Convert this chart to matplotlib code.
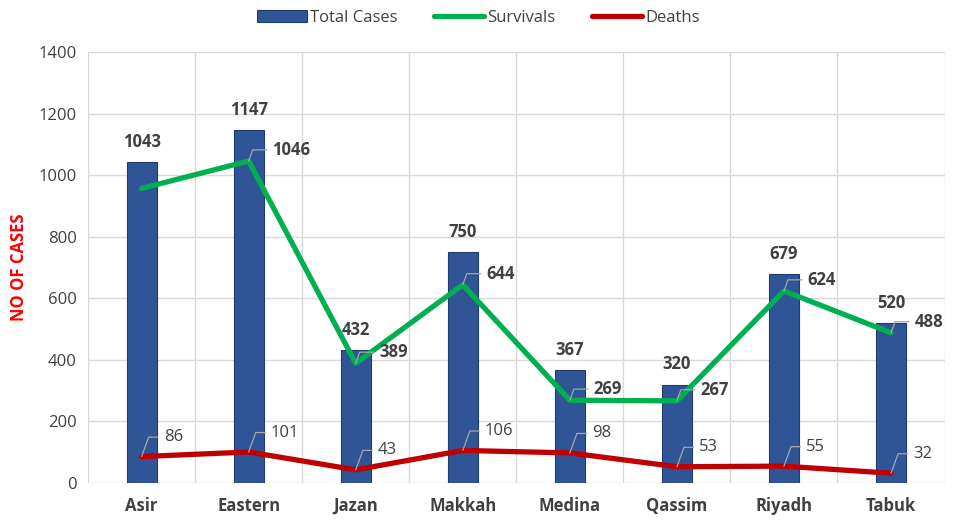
import matplotlib
matplotlib.use("Agg")
import matplotlib.pyplot as plt
import numpy as np

regions = ["Asir", "Eastern", "Jazan", "Makkah", "Medina", "Qassim", "Riyadh", "Tabuk"]
total_cases = [1043, 1147, 432, 750, 367, 320, 679, 520]
survivals = [957, 1046, 389, 644, 269, 267, 624, 488]
deaths = [86, 101, 43, 106, 98, 53, 55, 32]
y_ticks = [0, 200, 400, 600, 800, 1000, 1200, 1400]

plt.rcParams['font.family'] = ['Open Sans', 'DejaVu Sans']
txt = '#404040'
fig = plt.figure(figsize=(9.57, 5.2), dpi=100)
ax = fig.add_axes([0.092, 0.071, 0.895, 0.829])

x = np.arange(len(regions))
bars = ax.bar(x, total_cases, width=0.28, color='#2F5597', edgecolor='#1F3D73', linewidth=0.8,
              label='Total Cases', zorder=2)
ls, = ax.plot(x, survivals, color='#00B050', lw=3.8, label='Survivals', zorder=3,
              solid_capstyle='round')
ld, = ax.plot(x, deaths, color='#C00000', lw=3.8, label='Deaths', zorder=3,
              solid_capstyle='round')

for xi, v in zip(x, total_cases):
    ax.annotate(str(v), (xi, v), xytext=(0, 8), textcoords='offset points',
                ha='center', va='bottom', fontsize=12, fontweight='bold', color=txt)

for xi, v in zip(x, survivals):
    if xi == 0:
        continue
    ax.annotate(str(v), (xi, v), xytext=(17, 8), textcoords='offset points',
                ha='left', va='center', fontsize=12, fontweight='bold', color=txt,
                arrowprops=dict(arrowstyle='-', color='#A6A6A6', lw=0.9,
                                shrinkA=2, shrinkB=0,
                                connectionstyle='angle,angleA=0,angleB=70,rad=0'))

for xi, v in zip(x, deaths):
    ax.annotate(str(v), (xi, v), xytext=(16, 14), textcoords='offset points',
                ha='left', va='center', fontsize=12, color=txt,
                arrowprops=dict(arrowstyle='-', color='#A6A6A6', lw=0.9,
                                shrinkA=2, shrinkB=0,
                                connectionstyle='angle,angleA=0,angleB=70,rad=0'))

ax.set_xlim(-0.5, len(regions) - 0.5)
ax.set_ylim(0, 1400)
ax.set_yticks(y_ticks)
ax.set_xticks(x)
ax.set_xticklabels(regions, fontsize=12, fontweight='bold', color=txt)
ax.tick_params(axis='y', labelsize=12, labelcolor=txt, length=0, pad=8)
ax.tick_params(axis='x', length=0, pad=10)
ax.set_xticks(np.arange(-0.5, len(regions)), minor=True)
ax.tick_params(axis='x', which='minor', length=0)
ax.grid(axis='y', color='#D9D9D9', lw=1, zorder=0)
ax.grid(axis='x', which='minor', color='#D9D9D9', lw=1, zorder=0)
ax.grid(axis='x', which='major', visible=False)
ax.set_axisbelow(True)
for s in ax.spines.values():
    s.set_visible(False)
ax.set_ylabel('NO OF CASES', color='#FF0000', fontweight='bold', fontsize=12, labelpad=8)

fig.legend([bars, ls, ld], ['Total Cases', 'Survivals', 'Deaths'],
           loc='upper center', bbox_to_anchor=(0.5, 1.01), ncol=3, frameon=False,
           fontsize=12, handlelength=3.0, handletextpad=0.2, columnspacing=2.2,
           labelcolor=txt)

fig.savefig('out.png', dpi=100)
